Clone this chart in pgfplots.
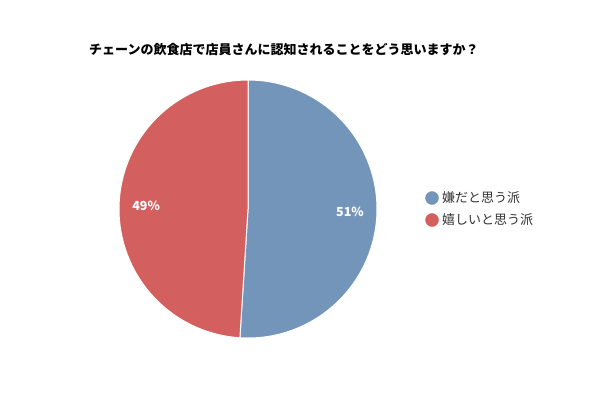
\documentclass[border=0pt]{standalone}
\usepackage{pgfplots}
\pgfplotsset{compat=1.18}
\usepackage{pgfplotstable}
\usepackage{fontspec}
\setmainfont{Noto Sans CJK JP}
\definecolor{sliceblue}{HTML}{7395BA}
\definecolor{slicered}{HTML}{D35F5F}
\definecolor{legtext}{HTML}{333333}
\pgfplotstableread{
name share
dislike 51
like 49
}\piedata
\pgfplotstablegetelem{0}{share}\of\piedata \let\shareA\pgfplotsretval
\pgfplotstablegetelem{1}{share}\of\piedata \let\shareB\pgfplotsretval
\pgfmathsetmacro{\aStart}{90}
\pgfmathsetmacro{\aMid}{90-\shareA*3.6}
\pgfmathsetmacro{\aEnd}{90-(\shareA+\shareB)*3.6}
\pgfmathsetmacro{\labA}{90-\shareA*1.8}
\pgfmathsetmacro{\labB}{90-\shareA*3.6-\shareB*1.8}
\begin{document}
\begin{tikzpicture}
\fill[white] (0,0) rectangle (600pt,400pt);
\path[use as bounding box] (0,0) rectangle (600pt,400pt);
\begin{axis}[
  at={(0,0)}, anchor=south west,
  width=600pt, height=400pt, scale only axis,
  xmin=0, xmax=600, ymin=0, ymax=400, y dir=reverse,
  hide axis, clip=false,
]
\addplot[fill=sliceblue, draw=white, line width=1pt, domain=\aMid:\aStart, samples=120, variable=\t]
  ({248+129*cos(\t)},{209-129*sin(\t)}) -- (axis cs:248,209) -- cycle;
\addplot[fill=slicered, draw=white, line width=1pt, domain=\aEnd:\aMid, samples=120, variable=\t]
  ({248+129*cos(\t)},{209-129*sin(\t)}) -- (axis cs:248,209) -- cycle;
% legend markers
\addplot[only marks, mark=*, mark size=6.5pt, color=sliceblue] coordinates {(432,198)};
\addplot[only marks, mark=*, mark size=6.5pt, color=slicered] coordinates {(432,220)};
\node[font=\fontsize{13}{15}\selectfont, text=legtext, anchor=west, inner sep=0pt] at (axis cs:442,198) {嫌だと思う派};
\node[font=\fontsize{13}{15}\selectfont, text=legtext, anchor=west, inner sep=0pt] at (axis cs:442,220) {嬉しいと思う派};
\node[font=\bfseries\fontsize{12.5}{14}\selectfont, text=white] at (axis cs:{248+102*cos(\labA)},{209-102*sin(\labA)}) {\shareA\%};
\node[font=\bfseries\fontsize{12.5}{14}\selectfont, text=white] at (axis cs:{248+102*cos(\labB)},{209-102*sin(\labB)}) {\shareB\%};
\node[font=\bfseries\fontsize{13}{15}\selectfont, anchor=west, inner sep=0pt] at (axis cs:89,50) {チェーンの飲食店で店員さんに認知されることをどう思いますか？};
\end{axis}
\end{tikzpicture}
\end{document}
